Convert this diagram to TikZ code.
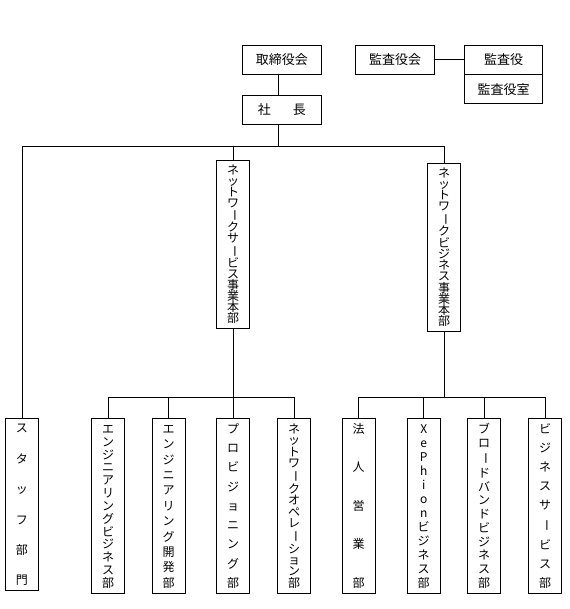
\documentclass[tikz,border=0pt]{standalone}
\usepackage{fontspec}
\setmainfont{Noto Sans CJK JP}
\usepackage{tikz}
\usetikzlibrary{calc}
% vertical text spread over a fixed height
\newcommand\tatetext[2]{\vbox to #1{\offinterlineskip
  \foreach[count=\k] \c in {#2}{\ifnum\k>1 \vfill\fi
    \hbox to 12pt{\hss\vphantom{部}\c\hss}}}}
\newcommand\chouon{\rotatebox[origin=c]{-90}{ー}}
\tikzset{
  box/.style={draw, line width=0.8pt, inner sep=0pt, minimum width=78.5pt,
    minimum height=29pt, font=\fontsize{13}{13}\selectfont},
  tbox/.style={draw, line width=0.8pt, inner sep=0pt, minimum width=33pt,
    font=\fontsize{12}{12}\selectfont},
  link/.style={line width=0.8pt}
}

\begin{document}
\begin{tikzpicture}[x=1pt, y=-1pt]
    \useasboundingbox (0,0) rectangle (569,609);
    % top management
    \node[box] (board) at (281.8,59.5) {取締役会};
    \node[box] (pres) at (281.8,110) {社\hspace{22pt}長};
    \node[box] (audit) at (395,59.5) {監査役会};
    \node[box] (auditor) at (503.5,59.5) {監査役};
    \node[box, anchor=north] (auditoff) at (auditor.south) {監査役室};
    % divisions
    \node[tbox, minimum height=168pt] (nsv) at (233,244)
        {\tatetext{158.6pt}{ネ,ッ,ト,ワ,\chouon,ク,サ,\chouon,ビ,ス,事,業,本,部}};
    \node[tbox, minimum height=168pt] (nbz) at (444,247)
        {\tatetext{158.6pt}{ネ,ッ,ト,ワ,\chouon,ク,ビ,ジ,ネ,ス,事,業,本,部}};
    % departments
    \node[tbox, anchor=north, minimum height=172pt] (staff) at (22,418)
        {\tatetext{162pt}{ス,タ,ッ,フ,部,門}};
    \node[tbox, anchor=north, minimum height=175pt] (engbiz) at (108,418)
        {\tatetext{164pt}{エ,ン,ジ,ニ,ア,リ,ン,グ,ビ,ジ,ネ,ス,部}};
    \node[tbox, anchor=north, minimum height=175pt] (engdev) at (168.5,418)
        {\tatetext{164pt}{エ,ン,ジ,ニ,ア,リ,ン,グ,開,発,部}};
    \node[tbox, anchor=north, minimum height=175pt] (prov) at (233,418)
        {\tatetext{164pt}{プ,ロ,ビ,ジ,ョ,ニ,ン,グ,部}};
    \node[tbox, anchor=north, minimum height=175pt] (netop) at (294,418)
        {\tatetext{164pt}{ネ,ッ,ト,ワ,\chouon,ク,オ,ペ,レ,\chouon,シ,ョ,ン,部}};
    \node[tbox, anchor=north, minimum height=175pt] (corp) at (358.7,418)
        {\tatetext{164pt}{法,人,営,業,部}};
    \node[tbox, anchor=north, minimum height=175pt] (xeph) at (423.7,418)
        {\tatetext{164pt}{X,e,P,h,i,o,n,ビ,ジ,ネ,ス,部}};
    \node[tbox, anchor=north, minimum height=175pt] (bband) at (484,418)
        {\tatetext{164pt}{ブ,ロ,\chouon,ド,バ,ン,ド,ビ,ジ,ネ,ス,部}};
    \node[tbox, anchor=north, minimum height=175pt] (bserv) at (545,418)
        {\tatetext{164pt}{ビ,ジ,ネ,ス,サ,\chouon,ビ,ス,部}};
    % connectors
    \coordinate (trunk) at (278,146.7);
    \coordinate (bus) at (0,397.3);
    \draw[link] (board.south -| trunk) -- (pres.north -| trunk);
    \draw[link] (pres.south -| trunk) -- (trunk);
    \draw[link] (audit.east) -- (auditor.west);
    \draw[link] (staff.north) |- (trunk) -| (nbz.north);
    \draw[link] (nsv.north) -- (nsv.north |- trunk);
    \draw[link] (nsv.south) -- (nsv.south |- bus);
    \draw[link] (nbz.south) -- (nbz.south |- bus);
    \draw[link] (engbiz.north) |- (netop.north |- bus) -- (netop.north);
    \draw[link] (corp.north) |- (bserv.north |- bus) -- (bserv.north);
    \foreach \d in {engdev, prov, xeph, bband}
        \draw[link] (\d.north) -- (\d.north |- bus);
\end{tikzpicture}
\end{document}
